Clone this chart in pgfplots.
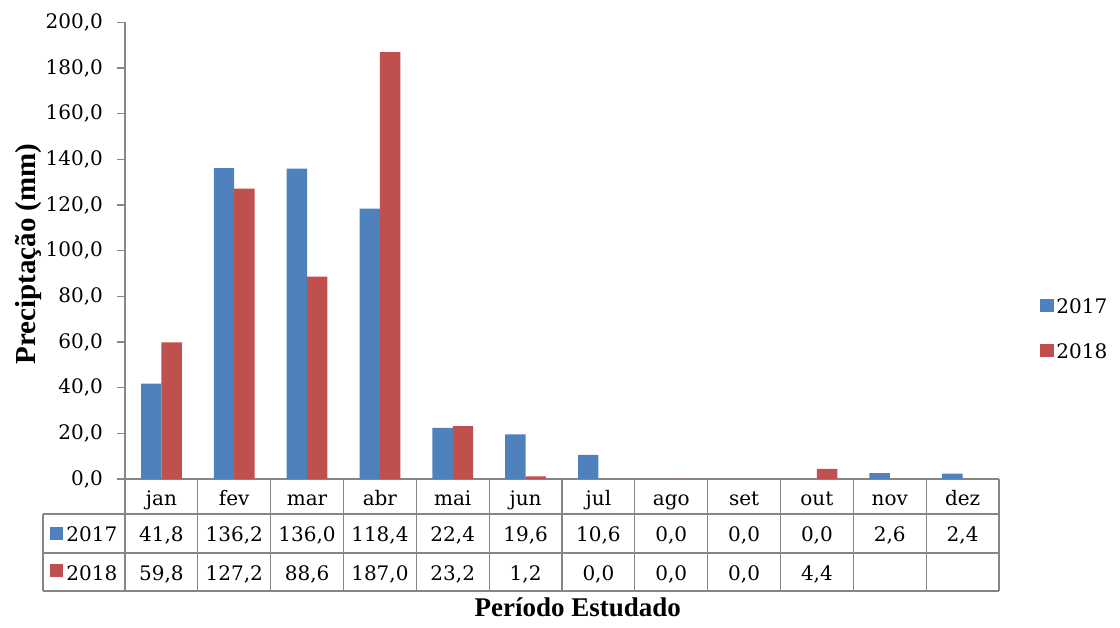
\documentclass[border=0pt]{standalone}
\usepackage{pgfplots}
\pgfplotsset{compat=1.18}
\usepackage{fontspec}
\setmainfont{DejaVu Serif}
\newfontfamily\titlefont{Liberation Serif}
\definecolor{c17}{HTML}{4F81BD}
\definecolor{c18}{HTML}{C0504D}
\definecolor{linec}{HTML}{868686}
\newcommand\cell[3]{\node[anchor=base, font=\fontsize{10}{12}\selectfont, inner sep=0pt] at ([yshift=#2]axis cs:#1,0) {#3};}
\begin{document}
\begin{tikzpicture}[x=1pt,y=1pt]
\useasboundingbox (0,0) rectangle (560,313.5);
\begin{axis}[
  at={(62.5pt,74pt)}, anchor=south west,
  scale only axis, width=437pt, height=228.3pt,
  xmin=-0.5, xmax=11.5, ymin=0, ymax=200,
  clip=false,
  separate axis lines,
  axis x line*=bottom, axis y line*=left,
  axis line style={linec, line width=0.6pt, -},
  xtick=\empty,
  ytick={0,20,...,200},
  tick align=outside,
  major tick length=4pt,
  ytick style={linec, line width=0.6pt},
  yticklabel={\pgfmathprintnumber[fixed,fixed zerofill,precision=1,use comma,assume math mode=true]{\tick}},
  yticklabel style={font=\fontsize{10}{12}\selectfont, xshift=-3.5pt},
  ylabel={\titlefont\bfseries Preciptação (mm)},
  every axis y label/.style={at={(axis description cs:-0.111,0.493)}, rotate=90, anchor=center, font=\fontsize{14.5}{17}\selectfont},
  xlabel={\titlefont\bfseries Período Estudado},
  every axis x label/.style={at={(axis description cs:0.518,-0.280)}, anchor=center, font=\fontsize{13.5}{16}\selectfont},
  legend style={at={(1.047,0.33)}, anchor=west, draw=none, fill=none, font=\fontsize{10}{12}\selectfont, row sep=15pt, inner sep=0pt, nodes={inner sep=0pt, text height=7.5pt, text depth=0pt}, /tikz/column sep=1pt},
  legend image code/.code={\fill[#1,draw=none] (0pt,-3.3pt) rectangle (7pt,3.2pt);},
  legend cell align=left,
]
\addplot[ybar, bar width=0.28, bar shift=-0.14, fill=c17, draw=none] coordinates {
(0,41.8) (1,136.2) (2,136.0) (3,118.4) (4,22.4) (5,19.6) (6,10.6) (7,0) (8,0) (9,0) (10,2.6) (11,2.4)};
\addlegendentry{2017}
\addplot[ybar, bar width=0.28, bar shift=0.14, fill=c18, draw=none] coordinates {
(0,59.8) (1,127.2) (2,88.6) (3,187.0) (4,23.2) (5,1.2) (6,0) (7,0) (8,0) (9,4.4)};
\addlegendentry{2018}
% data table grid
\draw[linec, line width=0.6pt] ([xshift=-41pt,yshift=-17.5pt]axis cs:-0.5,0) -- ([yshift=-17.5pt]axis cs:11.5,0);
\draw[linec, line width=0.6pt] ([xshift=-41pt,yshift=-37pt]axis cs:-0.5,0) -- ([yshift=-37pt]axis cs:11.5,0);
\draw[linec, line width=0.6pt] ([xshift=-41pt,yshift=-56pt]axis cs:-0.5,0) -- ([yshift=-56pt]axis cs:11.5,0);
\draw[linec, line width=0.6pt] ([xshift=-41pt,yshift=-17.5pt]axis cs:-0.5,0) -- ([xshift=-41pt,yshift=-56pt]axis cs:-0.5,0);
\pgfplotsinvokeforeach{-0.5,0.5,...,11.5}{
  \draw[linec, line width=0.6pt] (axis cs:#1,0) -- ([yshift=-56pt]axis cs:#1,0);
}
% legend keys of the table
\fill[c17] ([xshift=-37.5pt,yshift=-24pt]axis cs:-0.5,0) rectangle ([xshift=-31pt,yshift=-30.5pt]axis cs:-0.5,0);
\fill[c18] ([xshift=-37.5pt,yshift=-42.5pt]axis cs:-0.5,0) rectangle ([xshift=-31pt,yshift=-49pt]axis cs:-0.5,0);
\node[anchor=base west, font=\fontsize{10}{12}\selectfont, inner sep=0pt] at ([xshift=-29.5pt,yshift=-31.25pt]axis cs:-0.5,0) {2017};
\node[anchor=base west, font=\fontsize{10}{12}\selectfont, inner sep=0pt] at ([xshift=-29.5pt,yshift=-50.5pt]axis cs:-0.5,0) {2018};
% header row
\cell{0}{-13pt}{jan}\cell{1}{-13pt}{fev}\cell{2}{-13pt}{mar}\cell{3}{-13pt}{abr}
\cell{4}{-13pt}{mai}\cell{5}{-13pt}{jun}\cell{6}{-13pt}{jul}\cell{7}{-13pt}{ago}
\cell{8}{-13pt}{set}\cell{9}{-13pt}{out}\cell{10}{-13pt}{nov}\cell{11}{-13pt}{dez}
% 2017 row
\cell{0}{-31.25pt}{41,8}\cell{1}{-31.25pt}{136,2}\cell{2}{-31.25pt}{136,0}\cell{3}{-31.25pt}{118,4}
\cell{4}{-31.25pt}{22,4}\cell{5}{-31.25pt}{19,6}\cell{6}{-31.25pt}{10,6}\cell{7}{-31.25pt}{0,0}
\cell{8}{-31.25pt}{0,0}\cell{9}{-31.25pt}{0,0}\cell{10}{-31.25pt}{2,6}\cell{11}{-31.25pt}{2,4}
% 2018 row
\cell{0}{-50.5pt}{59,8}\cell{1}{-50.5pt}{127,2}\cell{2}{-50.5pt}{88,6}\cell{3}{-50.5pt}{187,0}
\cell{4}{-50.5pt}{23,2}\cell{5}{-50.5pt}{1,2}\cell{6}{-50.5pt}{0,0}\cell{7}{-50.5pt}{0,0}
\cell{8}{-50.5pt}{0,0}\cell{9}{-50.5pt}{4,4}
\end{axis}
\end{tikzpicture}
\end{document}
